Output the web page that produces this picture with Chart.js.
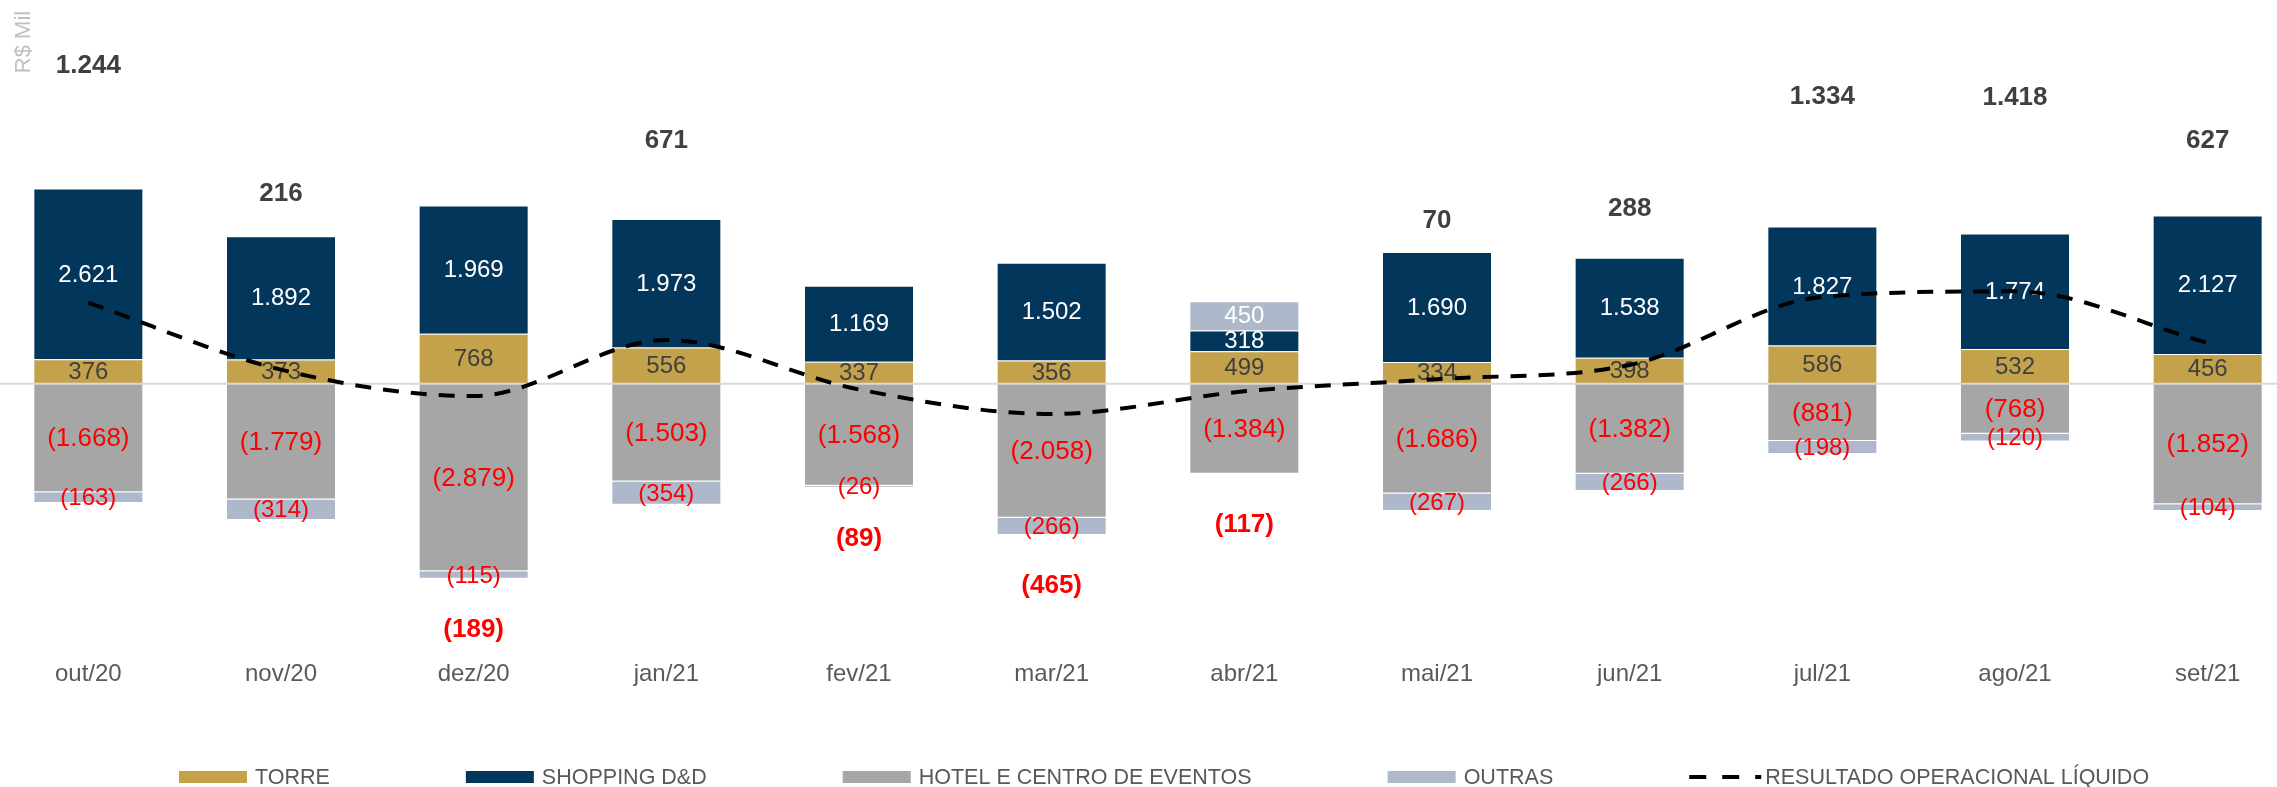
<!DOCTYPE html>
<html>
<head>
<meta charset="utf-8">
<script src="https://cdn.jsdelivr.net/npm/chart.js@4/dist/chart.umd.min.js"></script>
<style>
  body { margin: 0; background: #fff; overflow: hidden; }
  #wrap { width: 2277px; height: 787px; overflow: hidden; position: relative; }
  #chart { position: absolute; left: -8px; top: 0; }
</style>
</head>
<body>
<div id="wrap"><canvas id="chart" width="2312" height="787"></canvas></div>
<script>
const months = ['out/20', 'nov/20', 'dez/20', 'jan/21', 'fev/21', 'mar/21', 'abr/21', 'mai/21', 'jun/21', 'jul/21', 'ago/21', 'set/21'];
const torre = [376, 373, 768, 556, 337, 356, 499, 334, 398, 586, 532, 456];
const shopping = [2621, 1892, 1969, 1973, 1169, 1502, 318, 1690, 1538, 1827, 1774, 2127];
const hotel = [-1668, -1779, -2879, -1503, -1568, -2058, -1384, -1686, -1382, -881, -768, -1852];
const outras = [-163, -314, -115, -354, -26, -266, 450, -267, -266, -198, -120, -104];
const resultado = [1244, 216, -189, 671, -89, -465, -117, 70, 288, 1334, 1418, 627];

const FONT = "'Liberation Sans', Arial, sans-serif";
// canvas is shifted 8px left of the page
const SHIFT = 8;

const fmt = v => {
    const s = Math.abs(v).toString().replace(/\B(?=(\d{3})+(?!\d))/g, '.');
    return v < 0 ? '(' + s + ')' : s;
};

const barSeries = [
    { label: 'TORRE', data: torre, color: '#C3A24B', text: '#404040' },
    { label: 'SHOPPING D&D', data: shopping, color: '#03365B', text: '#FFFFFF' },
    { label: 'HOTEL E CENTRO DE EVENTOS', data: hotel, color: '#A6A6A6', text: '#FF0000', big: true },
    { label: 'OUTRAS', data: outras, color: '#ADB9CB', text: '#FFFFFF' }
];
const LINE_INDEX = barSeries.length;

const labelsPlugin = {
    id: 'labels',
    beforeDatasetDraw(chart, args) {
        if (args.index !== LINE_INDEX) return;
        const ctx = chart.ctx;
        const y0 = chart.scales.y.getPixelForValue(0);
        ctx.save();
        ctx.strokeStyle = '#D9D9D9';
        ctx.lineWidth = 2;
        ctx.beginPath();
        ctx.moveTo(0, y0);
        ctx.lineTo(chart.width, y0);
        ctx.stroke();

        ctx.textAlign = 'center';
        ctx.textBaseline = 'middle';
        barSeries.forEach((s, di) => {
            const meta = chart.getDatasetMeta(di);
            meta.data.forEach((bar, i) => {
                const v = s.data[i];
                ctx.font = (s.big ? 26 : 24) + 'px ' + FONT;
                ctx.fillStyle = v < 0 ? '#FF0000' : s.text;
                ctx.fillText(fmt(v), bar.x, (bar.y + bar.base) / 2 + 1);
            });
        });
        ctx.restore();
    },
    afterDraw(chart) {
        const ctx = chart.ctx;
        const y = chart.scales.y;
        const x = chart.scales.x;
        ctx.save();
        ctx.textAlign = 'center';
        ctx.textBaseline = 'middle';

        // totals above / below each stack
        resultado.forEach((r, i) => {
            const vals = barSeries.map(s => s.data[i]);
            const posTop = vals.filter(v => v > 0).reduce((a, b) => a + b, 0);
            const negBottom = vals.filter(v => v < 0).reduce((a, b) => a + b, 0);
            ctx.font = 'bold 26px ' + FONT;
            if (r >= 0) {
                ctx.fillStyle = '#404040';
                ctx.fillText(fmt(r), x.getPixelForValue(i), y.getPixelForValue(posTop + 1.19 * r) - 26);
            } else {
                ctx.fillStyle = '#FF0000';
                ctx.fillText(fmt(r), x.getPixelForValue(i), y.getPixelForValue(negBottom) + 51);
            }
        });

        // axis unit
        ctx.save();
        ctx.translate(24 + SHIFT, 42);
        ctx.rotate(-Math.PI / 2);
        ctx.font = '22px ' + FONT;
        ctx.fillStyle = '#BFBFBF';
        ctx.fillText('R$ Mil', 0, 0);
        ctx.restore();

        // legend
        const items = barSeries.map(s => ({ label: s.label, color: s.color }))
            .concat([{ label: 'RESULTADO OPERACIONAL LÍQUIDO', line: true }]);
        ctx.font = '21.5px ' + FONT;
        ctx.textAlign = 'left';
        const ly = 777;
        let lx = 179 + SHIFT;
        items.forEach(it => {
            if (it.line) {
                ctx.save();
                ctx.strokeStyle = '#000';
                ctx.lineWidth = 4;
                ctx.setLineDash([17, 16]);
                ctx.beginPath();
                ctx.moveTo(lx, ly);
                ctx.lineTo(lx + 72, ly);
                ctx.stroke();
                ctx.restore();
            } else {
                ctx.fillStyle = it.color;
                ctx.fillRect(lx, ly - 6, 68, 12);
            }
            ctx.fillStyle = '#595959';
            ctx.fillText(it.label, lx + 76, ly + 1);
            lx += 74 + ctx.measureText(it.label).width + 138;
        });
        ctx.restore();
    }
};

const datasets = barSeries.map(s => ({
    type: 'bar',
    label: s.label,
    data: s.data,
    backgroundColor: s.color,
    borderColor: 'rgba(255,255,255,0.35)',
    borderWidth: 1,
    barPercentage: 0.571,
    categoryPercentage: 1,
    stack: 'bars',
    order: 1
}));
datasets.push({
    type: 'line',
    label: 'RESULTADO OPERACIONAL LÍQUIDO',
    data: resultado,
    borderColor: '#000',
    borderWidth: 4,
    borderDash: [16, 12],
    cubicInterpolationMode: 'monotone',
    pointRadius: 0,
    fill: false,
    stack: 'line',
    order: 0
});

new Chart(document.getElementById('chart'), {
    data: { labels: months, datasets },
    options: {
        responsive: false,
        animation: false,
        layout: { padding: { left: 0, right: 0, top: 6, bottom: 82 } },
        plugins: { legend: { display: false }, tooltip: { enabled: false } },
        scales: {
            x: {
                stacked: true,
                grid: { display: false, drawTicks: false },
                border: { display: false },
                ticks: { color: '#595959', font: { family: FONT, size: 24 }, padding: 16 }
            },
            y: {
                display: false,
                stacked: true,
                min: -4000,
                max: 5800
            }
        }
    },
    plugins: [labelsPlugin]
});
</script>
</body>
</html>
